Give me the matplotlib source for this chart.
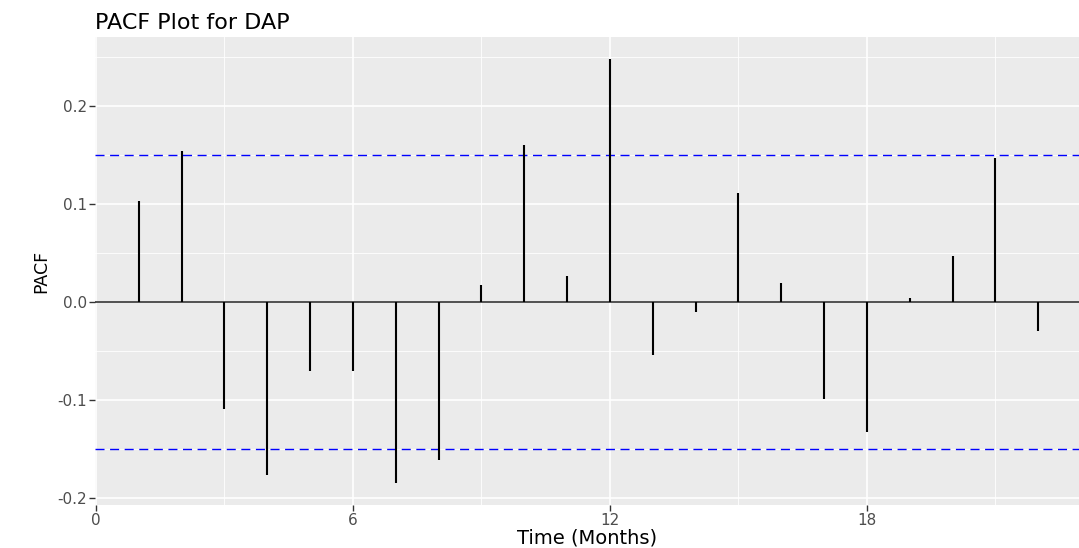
import numpy as np
import matplotlib.pyplot as plt

plt.rcParams['font.family'] = ['DejaVu Sans']

# Data
lags = list(range(1, 23))
pacf = [0.103, 0.154, -0.109, -0.176, -0.070, -0.070, -0.185, -0.161,
        0.017, 0.160, 0.027, 0.248, -0.054, -0.010, 0.111, 0.019,
        -0.099, -0.133, 0.004, 0.047, 0.147, -0.030]
conf = 0.150
xticks = [0, 6, 12, 18]
yticks = [-0.2, -0.1, 0.0, 0.1, 0.2]

fig = plt.figure(figsize=(10.79, 5.48), dpi=100)
ax = fig.add_axes([95 / 1079, 1 - 505 / 548, (1079 - 95) / 1079, (505 - 37) / 548])
ax.set_facecolor('#EBEBEB')

# grid
for x in [3, 9, 15, 21]:
    ax.axvline(x, color='white', lw=0.6, zorder=0)
for x in xticks:
    ax.axvline(x, color='white', lw=1.2, zorder=0)
for y in [-0.15, -0.05, 0.05, 0.15, 0.25]:
    ax.axhline(y, color='white', lw=0.6, zorder=0)
for y in yticks:
    ax.axhline(y, color='white', lw=1.2, zorder=0)

ax.axhline(0, color='#333333', lw=1.2, zorder=2)
ax.vlines(lags, 0, pacf, color='black', lw=1.5, zorder=3)
ax.axhline(conf, color='#0000FF', lw=1.0, ls=(0, (6.5, 4)), zorder=2)
ax.axhline(-conf, color='#0000FF', lw=1.0, ls=(0, (6.5, 4)), zorder=2)

ax.set_xlim(-0.02, 22.95)
ax.set_ylim(-0.207, 0.2704)
ax.set_xticks(xticks)
ax.set_yticks(yticks)
ax.set_xticklabels([str(t) for t in xticks])
ax.set_yticklabels(['-0.2', '-0.1', '0.0', '0.1', '0.2'])
ax.tick_params(colors='#333333', labelcolor='#4D4D4D', labelsize=11,
               length=4, width=1.0, direction='out', pad=2)
for s in ax.spines.values():
    s.set_visible(False)

ax.set_xlabel('Time (Months)', fontsize=14, labelpad=0)
ax.set_ylabel('PACF', fontsize=12.5, labelpad=5)
ax.set_title('PACF Plot for DAP', fontsize=16, loc='left', pad=6)

fig.savefig('out.png', dpi=100)
